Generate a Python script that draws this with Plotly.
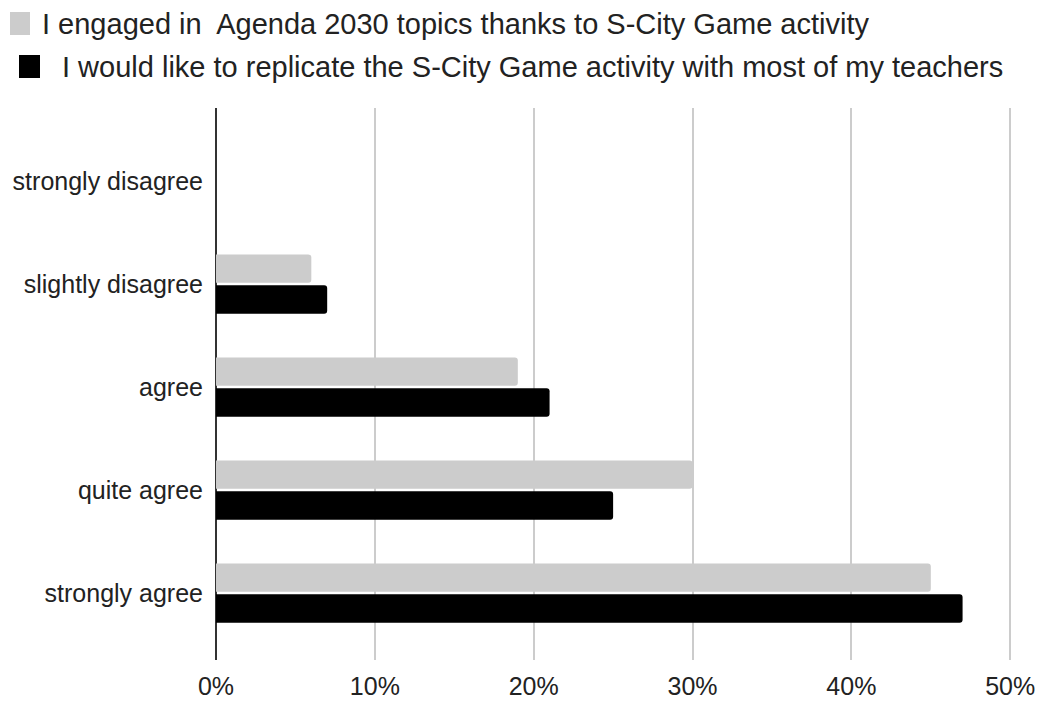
import plotly.graph_objects as go

# Survey answers, listed from top to bottom of the chart
categories = ["strongly disagree", "slightly disagree", "agree", "quite agree", "strongly agree"]

series_names = [
    "I engaged in\u00a0 Agenda 2030 topics thanks to S-City Game activity",
    "I would like to replicate the S-City Game activity with most of my teachers",
]
engaged_pct = [0, 6, 19, 30, 45]
replicate_pct = [0, 7, 21, 25, 47]
series_colors = ["#cccccc", "#000000"]

x_tickvals = [0, 10, 20, 30, 40, 50]
x_ticktext = ["0%", "10%", "20%", "30%", "40%", "50%"]

FONT = "Liberation Sans, Arial, sans-serif"
TEXT = "#222222"

# plot-area geometry in pixels (used to place the hand-drawn legend)
W, H = 1040, 701
ML, MR, MT, MB = 216, 25, 108, 41
PW = W - ML - MR
PH = H - MT - MB


def px_x(p):
    return (p - ML) / PW


def px_y(p):
    return 1 - (p - MT) / PH


fig = go.Figure()
for name, vals, col in zip(series_names, [engaged_pct, replicate_pct], series_colors):
    fig.add_trace(go.Bar(
        y=categories, x=vals, name=name, orientation="h",
        marker=dict(color=col, line=dict(width=0)),
        showlegend=False,
    ))

# legend: square swatch + label for each series
legend_rows = [
    dict(sq=(10, 12, 30, 35), tx=40, ty=24),
    dict(sq=(19, 55, 40, 78), tx=60, ty=67),
]
for row, name, col in zip(legend_rows, series_names, series_colors):
    x0, y0, x1, y1 = row["sq"]
    fig.add_shape(type="rect", xref="paper", yref="paper",
                  x0=px_x(x0), x1=px_x(x1), y0=px_y(y1), y1=px_y(y0),
                  fillcolor=col, line=dict(width=0), layer="above")
    fig.add_annotation(xref="paper", yref="paper", x=px_x(row["tx"]), y=px_y(row["ty"]),
                       xanchor="left", yanchor="middle", showarrow=False,
                       text=name, font=dict(family=FONT, size=29, color=TEXT))

fig.update_layout(
    width=W, height=H,
    margin=dict(l=ML, r=MR, t=MT, b=MB, pad=0),
    paper_bgcolor="white", plot_bgcolor="white",
    barmode="group", bargap=0.4, bargroupgap=0.08,
    barcornerradius=3,
    font=dict(family=FONT, size=25, color=TEXT),
    showlegend=False,
)
fig.update_xaxes(
    range=[0, 50.3], tickvals=x_tickvals, ticktext=x_ticktext,
    showgrid=True, gridcolor="#cccccc", gridwidth=2,
    zeroline=True, zerolinecolor="#333333", zerolinewidth=2,
    showline=False, ticks="", ticklabelstandoff=9, automargin=False,
    tickfont=dict(family=FONT, size=25, color=TEXT),
)
fig.update_yaxes(
    categoryorder="array", categoryarray=categories,
    range=[4.65, -0.71],
    showgrid=False, zeroline=False, showline=False, ticks="",
    ticklabelstandoff=12, automargin=False,
    tickfont=dict(family=FONT, size=25, color=TEXT),
)

fig.write_html("out.html")
